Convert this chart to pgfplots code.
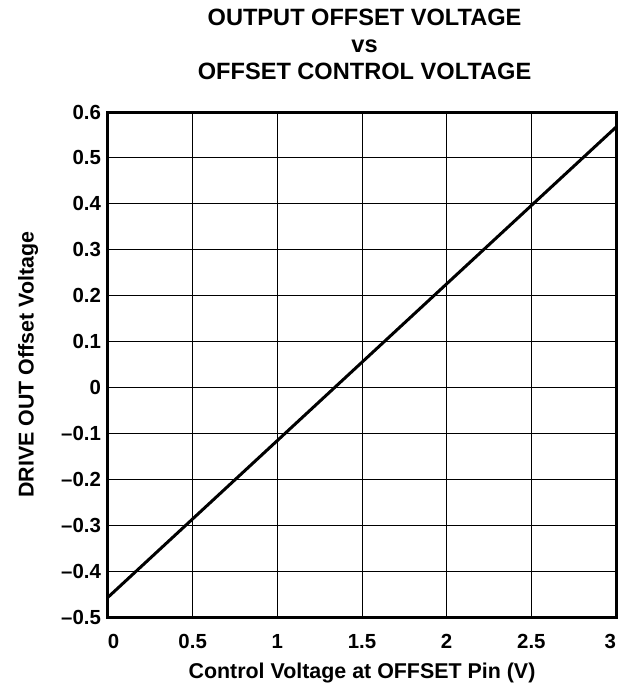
\documentclass[border=0pt]{standalone}
\usepackage{fontspec}
\setmainfont{Liberation Sans}
\usepackage{pgfplots}
\pgfplotsset{compat=1.18}
\begin{document}
\begin{tikzpicture}
\useasboundingbox (-54pt,-34pt) rectangle ++(309.5pt,342.5pt);
\begin{axis}[
  at={(0,0)}, anchor=south west,
  scale only axis,
  width=254pt, height=252.5pt,
  xmin=0, xmax=3, ymin=-0.5, ymax=0.6,
  xtick={0,0.5,1,1.5,2,2.5,3},
  xticklabels={\makebox[0pt][l]{0},0.5,1,1.5,2,2.5,\makebox[0pt][r]{3}},
  ytick={-0.5,-0.4,-0.3,-0.2,-0.1,0,0.1,0.2,0.3,0.4,0.5,0.6},
  yticklabels={–0.5,–0.4,–0.3,–0.2,–0.1,0,0.1,0.2,0.3,0.4,0.5,0.6},
  major tick length=0pt,
  grid=major,
  major grid style={black, line width=0.5pt},
  axis line style={line width=1.5pt, black},
  tick label style={font=\bfseries\fontsize{10.2}{12}\selectfont},
  xticklabel style={yshift=-5pt},
  yticklabel style={xshift=0pt},
  label style={font=\bfseries\fontsize{10.7}{12}\selectfont},
  xlabel={Control Voltage at OFFSET Pin (V)},
  ylabel={DRIVE OUT Offset Voltage},
  xlabel style={at={(axis description cs:0.5,-0.111)}, anchor=center},
  ylabel style={at={(axis description cs:-0.157,0.5)}, anchor=center},
  title={OUTPUT OFFSET VOLTAGE\\vs\\OFFSET CONTROL VOLTAGE},
  title style={at={(axis description cs:0.505,1.133)}, anchor=center, yshift=-6pt, align=center, font=\bfseries\fontsize{11.8}{13.5}\selectfont},
  clip=false,
]
\addplot[black, line width=1.5pt] coordinates {(0,-0.457) (3,0.567)};
\end{axis}
\end{tikzpicture}
\end{document}
